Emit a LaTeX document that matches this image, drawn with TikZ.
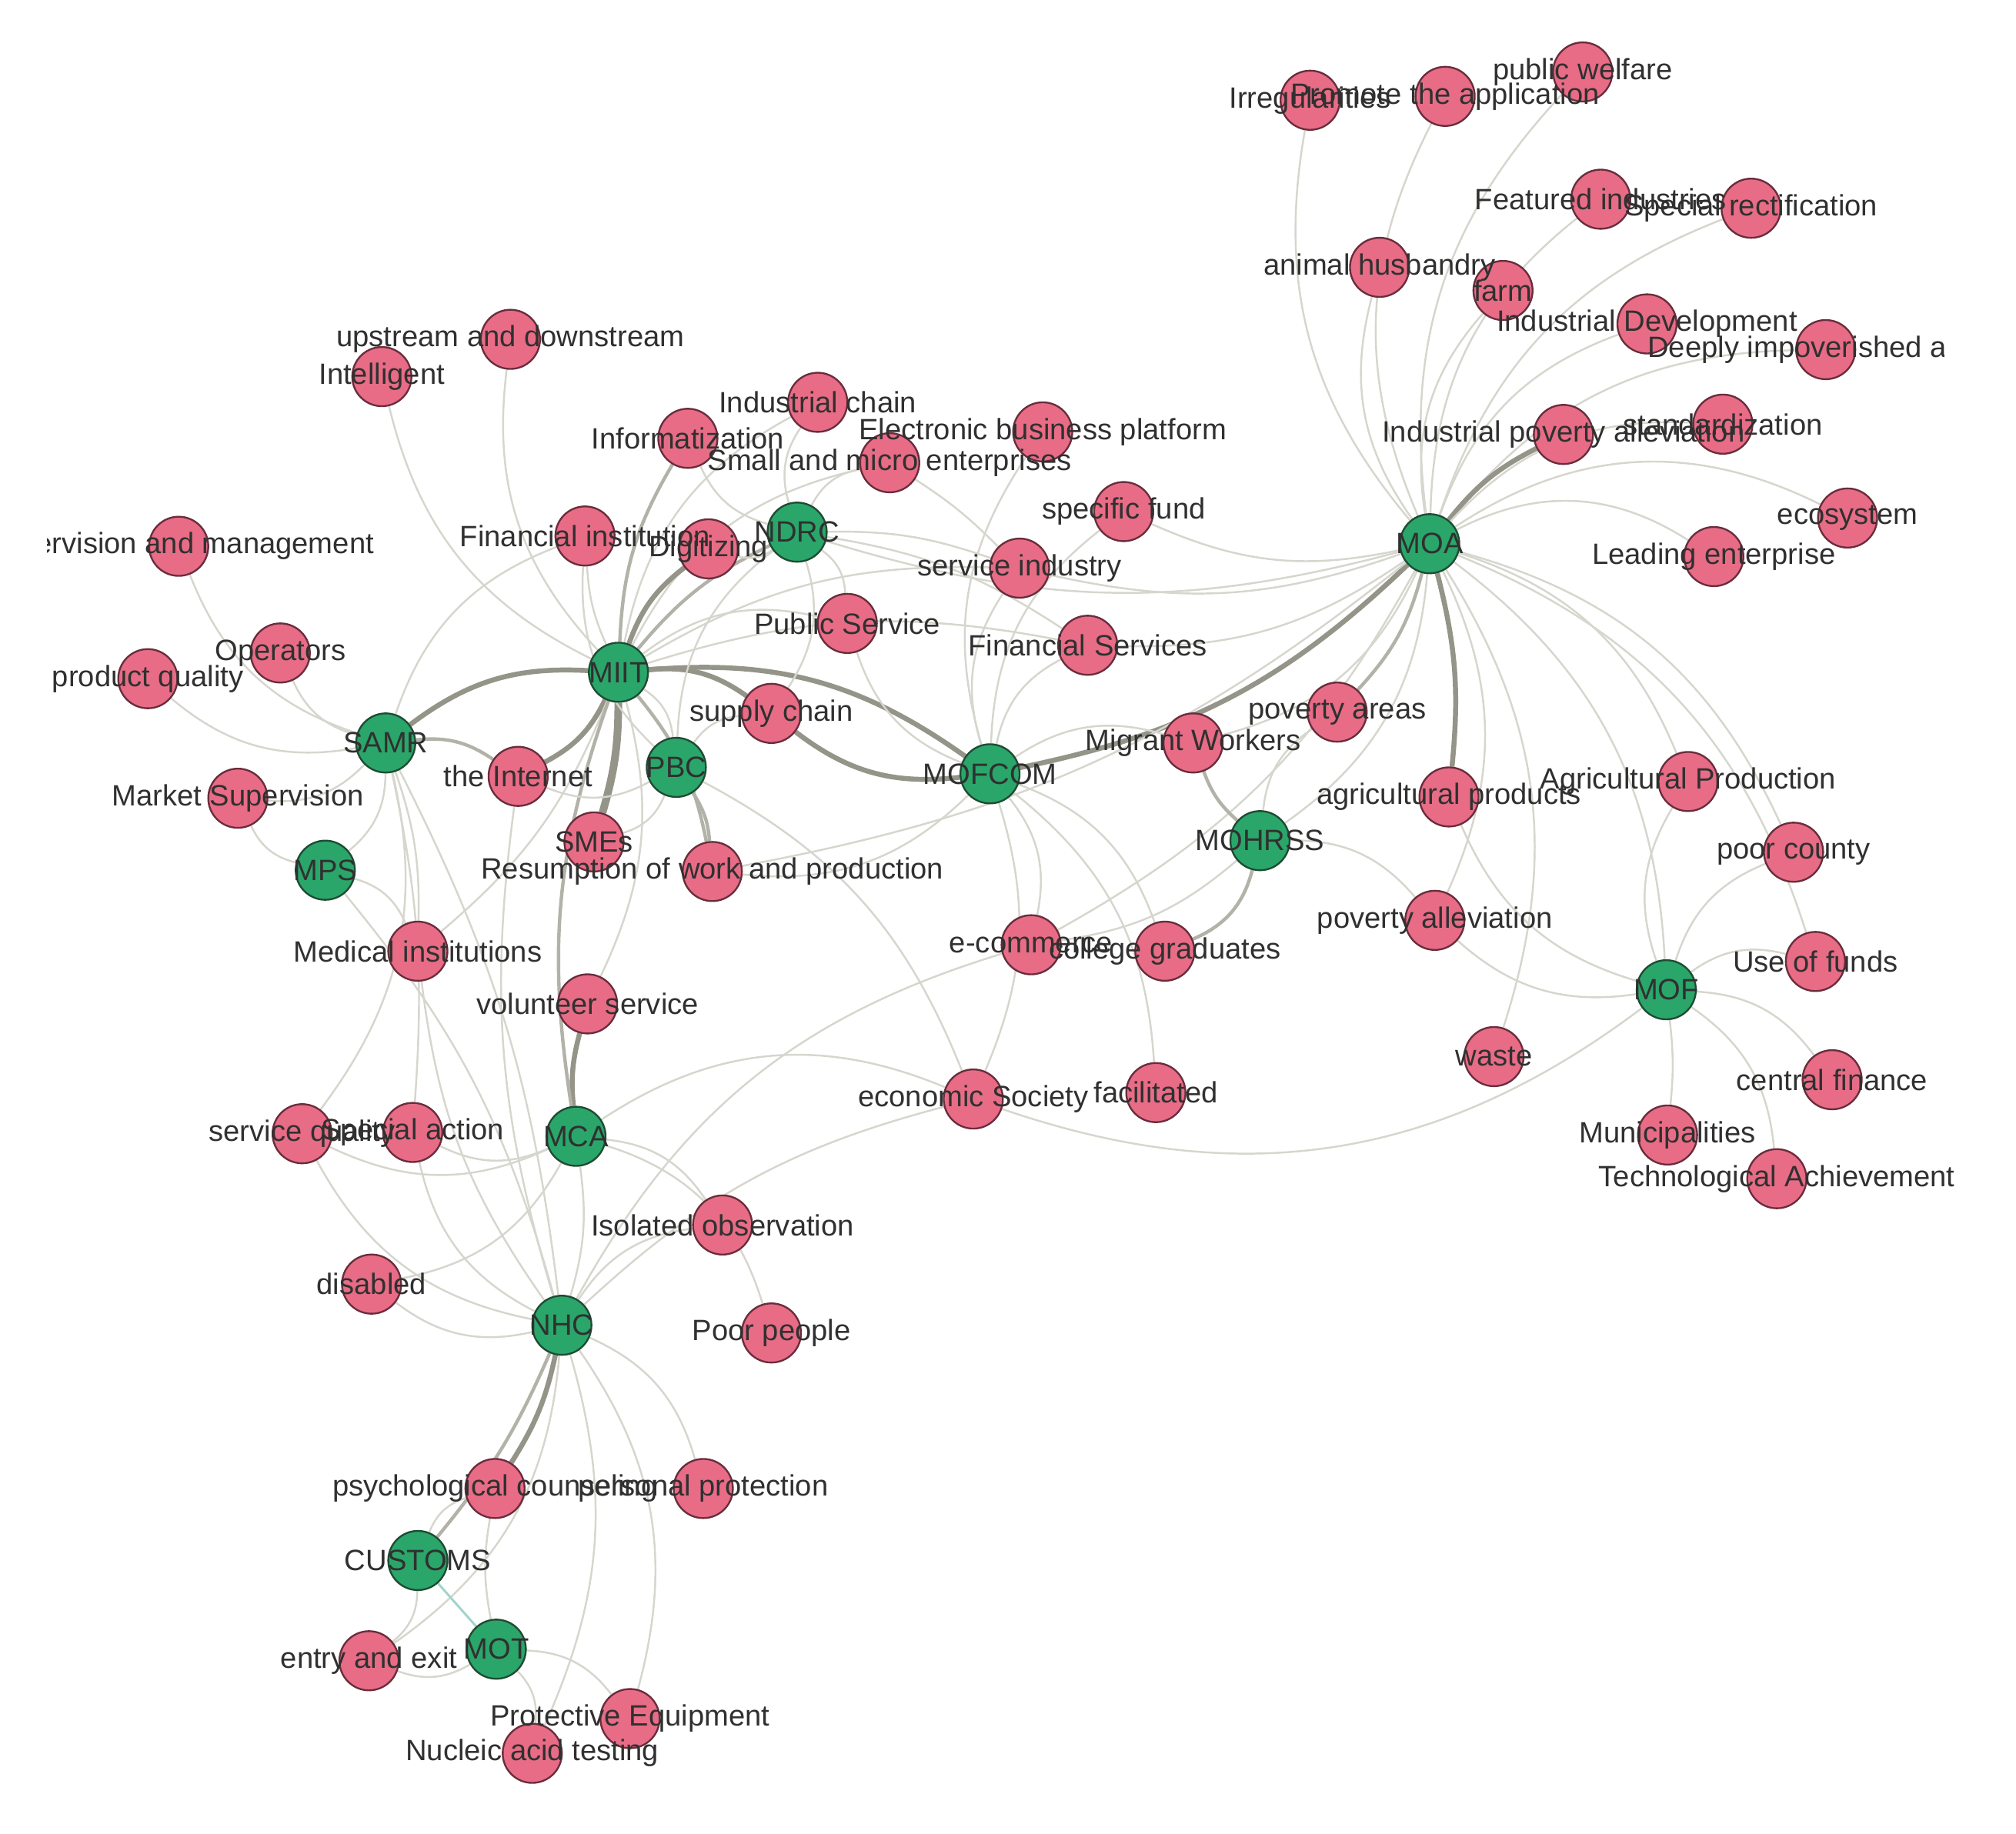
\documentclass[tikz,border=0pt]{standalone}
\usepackage{fontspec}
\setmainfont{Liberation Sans}
\pgfdeclarelayer{bg}
\pgfdeclarelayer{fg}
\pgfsetlayers{bg,main,fg}
\definecolor{pinkf}{RGB}{232,108,134}
\definecolor{greenf}{RGB}{42,166,106}
\definecolor{pinkb}{RGB}{105,45,60}
\definecolor{greenb}{RGB}{30,75,50}
\definecolor{ecol}{RGB}{214,214,206}
\definecolor{emid}{RGB}{178,178,168}
\definecolor{ethk}{RGB}{148,148,136}
\definecolor{eteal}{RGB}{160,212,202}
\definecolor{txt}{RGB}{48,48,48}
\tikzset{
 pnode/.style={circle, fill=pinkf, draw=pinkb, line width=0.4pt, minimum size=0.46cm, inner sep=0pt},
 gnode/.style={circle, fill=greenf, draw=greenb, line width=0.4pt, minimum size=0.46cm, inner sep=0pt},
 lab/.style={font=\fontsize{6.5pt}{7pt}\selectfont, text=txt, inner sep=0pt, anchor=center},
 elt/.style={draw=ecol, line width=0.42pt},
 emd/.style={draw=emid, line width=0.75pt},
 eth/.style={draw=ethk, line width=1.1pt},
 etl/.style={draw=eteal, line width=0.5pt},
}
\newcommand{\PN}[3]{\node[pnode] (#1) at (#2,-#3) {};}
\newcommand{\GN}[3]{\node[gnode] (#1) at (#2,-#3) {};}
\newcommand{\E}[3][elt]{\draw[#1] (#2) to[bend left=25] (#3);}
\newcommand{\EB}[4][elt]{\draw[#1] (#3) to[bend left=#2] (#4);}
\begin{document}
\begin{tikzpicture}[x=0.01cm,y=0.01cm]
\useasboundingbox (0,0) rectangle (1568,-1426.7);
% ---------- agency nodes ----------
\GN{moa}{1112}{423}
\GN{miit}{481}{523}
\GN{ndrc}{620}{414}
\GN{samr}{300}{578}
\GN{pbc}{526}{597}
\GN{mofcom}{770}{602}
\GN{mohrss}{980}{654}
\GN{mps}{253}{677}
\GN{mof}{1296}{770}
\GN{mca}{448}{884}
\GN{nhc}{437}{1031}
\GN{cust}{325}{1214}
\GN{mot}{386}{1283}
% ---------- keyword nodes ----------
\PN{irr}{1019}{78}
\PN{prom}{1124}{75}
\PN{pubw}{1231}{56}
\PN{feat}{1245}{155}
\PN{spec}{1362}{162}
\PN{anim}{1073}{208}
\PN{farm}{1169}{226}
\PN{inddev}{1281}{252}
\PN{deep}{1420}{272}
\PN{ipa}{1216}{338}
\PN{std}{1340}{330}
\PN{eco}{1437}{403}
\PN{lead}{1333}{433}
\PN{upd}{397}{264}
\PN{intel}{297}{293}
\PN{ichain}{636}{313}
\PN{info}{535}{341}
\PN{ebp}{811}{336}
\PN{smme}{692}{360}
\PN{sfund}{874}{398}
\PN{finst}{455}{417}
\PN{digi}{551}{427}
\PN{supm}{139}{425}
\PN{oper}{218}{508}
\PN{pq}{115}{528}
\PN{pubs}{659}{485}
\PN{servind}{793}{442}
\PN{finserv}{846}{502}
\PN{sc}{600}{555}
\PN{pova}{1040}{554}
\PN{migw}{928}{578}
\PN{inet}{403}{604}
\PN{mktsup}{185}{621}
\PN{agprod}{1127}{620}
\PN{agpro}{1313}{608}
\PN{smes}{462}{655}
\PN{resum}{554}{678}
\PN{poorc}{1395}{663}
\PN{medi}{325}{740}
\PN{ecom}{802}{735}
\PN{colg}{906}{740}
\PN{poval}{1116}{716}
\PN{usef}{1412}{748}
\PN{vols}{457}{781}
\PN{waste}{1162}{822}
\PN{econ}{757}{855}
\PN{facil}{899}{850}
\PN{cfin}{1425}{840}
\PN{muni}{1297}{883}
\PN{tech}{1382}{917}
\PN{sq}{235}{882}
\PN{spa}{321}{881}
\PN{iso}{562}{953}
\PN{dis}{289}{999}
\PN{poorp}{600}{1037}
\PN{psy}{385}{1158}
\PN{pers}{547}{1158}
\PN{entry}{287}{1292}
\PN{prot}{490}{1337}
\PN{nucl}{414}{1364}
% ---------- connectors ----------
\begin{pgfonlayer}{bg}
% MOA
\E{moa}{irr} \E{moa}{prom} \E{moa}{pubw} \E{moa}{feat} \E{moa}{spec}
\E{moa}{anim} \E{moa}{farm} \E{moa}{inddev} \E{moa}{deep}
\EB[eth]{12}{moa}{ipa}
\E{moa}{std} \EB{30}{moa}{eco} \EB{30}{moa}{lead}
\E{moa}{agpro} \E{moa}{poorc} \E{moa}{usef} \E{moa}{mof}
\E{moa}{poval} \E{moa}{waste}
\EB[eth]{10}{moa}{agprod}
\EB[emd]{14}{moa}{pova}
\E{moa}{migw} \E{moa}{mohrss}
\EB[eth]{16}{moa}{mofcom}
\EB{18}{moa}{finserv} \EB{16}{moa}{servind} \EB{16}{moa}{ndrc}
\EB{14}{moa}{resum} \EB{16}{moa}{ecom} \EB{18}{moa}{sfund}
% MIIT
\E{miit}{intel} \E{miit}{upd}
\EB[emd]{14}{miit}{info}
\E{miit}{ichain} \E{miit}{smme} \EB{10}{miit}{finst}
\EB[eth]{16}{miit}{digi}
\EB[emd]{12}{miit}{ndrc}
\E{miit}{pubs}
\EB[eth]{20}{miit}{sc}
\EB[eth]{20}{miit}{mofcom}
\E{miit}{pbc}
\EB[eth]{18}{miit}{inet}
\draw[ethk, line width=1.7pt] (miit) to[bend left=8] (smes);
\EB[emd]{14}{miit}{resum}
\EB{20}{miit}{vols}
\EB{16}{miit}{servind} \EB{14}{miit}{finserv} \EB{14}{miit}{medi}
% SAMR
\EB[eth]{20}{samr}{miit}
\E{samr}{oper} \E{samr}{pq} \E{samr}{supm} \E{samr}{mktsup} \E{samr}{mps}
\EB[emd]{20}{samr}{inet}
\EB{10}{samr}{medi} \E{samr}{sq} \EB{8}{samr}{spa} \EB{10}{samr}{nhc}
\E{samr}{finst}
% MPS
\E{mps}{mktsup} \E{mps}{medi} \EB{12}{mps}{nhc}
% MCA
\EB[eth]{10}{mca}{vols}
\EB[emd]{14}{mca}{miit}
\E{mca}{sq} \E{mca}{spa} \E{mca}{dis} \EB{12}{mca}{nhc}
\EB{28}{mca}{econ} \E{mca}{iso} \EB{28}{mca}{poorp}
% NHC
\EB[eth]{10}{nhc}{psy}
\EB[emd]{8}{nhc}{cust}
\E{nhc}{pers} \EB{20}{nhc}{nucl} \E{nhc}{prot} \E{nhc}{dis}
\E{nhc}{iso} \EB{14}{nhc}{medi} \E{nhc}{sq} \E{nhc}{spa}
\EB{22}{nhc}{ecom} \EB{14}{nhc}{econ} \EB{12}{nhc}{inet} \E{nhc}{entry}
% CUSTOMS, MOT
\E{cust}{psy} \draw[etl] (cust) -- (mot); \E{cust}{entry}
\E{mot}{prot} \E{mot}{nucl} \EB{10}{mot}{psy} \E{mot}{entry}
% NDRC
\E{ndrc}{ichain} \E{ndrc}{info} \E{ndrc}{smme} \E{ndrc}{digi}
\E{ndrc}{pubs} \EB{10}{ndrc}{servind} \E{ndrc}{sc} \EB{12}{ndrc}{finserv}
% PBC
\EB[emd]{14}{pbc}{resum}
\E{pbc}{sc} \E{pbc}{finst} \E{pbc}{smes} \E{pbc}{inet} \EB{20}{pbc}{econ} \E{pbc}{ndrc}
% MOFCOM
\EB[eth]{22}{mofcom}{sc}
\E{mofcom}{ebp} \E{mofcom}{servind} \E{mofcom}{finserv} \E{mofcom}{pubs}
\E{mofcom}{ecom} \E{mofcom}{colg} \EB{20}{mofcom}{econ} \E{mofcom}{migw}
\E{mofcom}{resum} \EB{24}{mofcom}{facil} \E{mofcom}{sfund}
% MOHRSS
\EB[emd]{14}{mohrss}{migw}
\EB[emd]{26}{mohrss}{colg}
\E{mohrss}{pova} \E{mohrss}{poval} \EB{16}{mohrss}{ecom}
% MOF
\E{mof}{poval} \E{mof}{agprod} \E{mof}{agpro} \E{mof}{poorc} \E{mof}{usef}
\E{mof}{cfin} \EB{6}{mof}{muni} \E{mof}{tech} \EB{28}{mof}{econ}
% others
\EB{6}{smme}{servind}
\end{pgfonlayer}
% ---------- labels ----------
\begin{pgfonlayer}{fg}
\begin{scope}
\clip (37,0) rectangle (1512,-1426.7);
\node[lab] at (deep) {Deeply impoverished areas};
\end{scope}
\begin{scope}
\clip (37,0) rectangle (1522,-1426.7);
\node[lab] at (moa) {MOA};
\node[lab] at (miit) {MIIT};
\node[lab] at (ndrc) {NDRC};
\node[lab] at (samr) {SAMR};
\node[lab] at (pbc) {PBC};
\node[lab] at (mofcom) {MOFCOM};
\node[lab] at (mohrss) {MOHRSS};
\node[lab] at (mps) {MPS};
\node[lab] at (mof) {MOF};
\node[lab] at (mca) {MCA};
\node[lab] at (nhc) {NHC};
\node[lab] at (cust) {CUSTOMS};
\node[lab] at (mot) {MOT};
\node[lab] at (irr) {Irregularities};
\node[lab] at (prom) {Promote the application};
\node[lab] at (pubw) {public welfare};
\node[lab] at (feat) {Featured industries};
\node[lab] at (spec) {Special rectification};
\node[lab] at (anim) {animal husbandry};
\node[lab] at (farm) {farm};
\node[lab] at (inddev) {Industrial Development};
\node[lab] at (ipa) {Industrial poverty alleviation};
\node[lab] at (std) {standardization};
\node[lab] at (eco) {ecosystem};
\node[lab] at (lead) {Leading enterprise};
\node[lab] at (upd) {upstream and downstream};
\node[lab] at (intel) {Intelligent};
\node[lab] at (ichain) {Industrial chain};
\node[lab] at (info) {Informatization};
\node[lab] at (ebp) {Electronic business platform};
\node[lab] at (smme) {Small and micro enterprises};
\node[lab] at (sfund) {specific fund};
\node[lab] at (finst) {Financial institution};
\node[lab] at (digi) {Digitizing};
\node[lab] at (supm) {Supervision and management};
\node[lab] at (oper) {Operators};
\node[lab] at (pq) {product quality};
\node[lab] at (pubs) {Public Service};
\node[lab] at (servind) {service industry};
\node[lab] at (finserv) {Financial Services};
\node[lab] at (sc) {supply chain};
\node[lab] at (pova) {poverty areas};
\node[lab] at (migw) {Migrant Workers};
\node[lab] at (inet) {the Internet};
\node[lab] at (mktsup) {Market Supervision};
\node[lab] at (agprod) {agricultural products};
\node[lab] at (agpro) {Agricultural Production};
\node[lab] at (smes) {SMEs};
\node[lab] at (resum) {Resumption of work and production};
\node[lab] at (poorc) {poor county};
\node[lab] at (medi) {Medical institutions};
\node[lab] at (ecom) {e-commerce};
\node[lab] at (colg) {college graduates};
\node[lab] at (poval) {poverty alleviation};
\node[lab] at (usef) {Use of funds};
\node[lab] at (vols) {volunteer service};
\node[lab] at (waste) {waste};
\node[lab] at (econ) {economic Society};
\node[lab] at (facil) {facilitated};
\node[lab] at (cfin) {central finance};
\node[lab] at (muni) {Municipalities};
\node[lab] at (tech) {Technological Achievement};
\node[lab] at (sq) {service quality};
\node[lab] at (spa) {Special action};
\node[lab] at (iso) {Isolated observation};
\node[lab] at (dis) {disabled};
\node[lab] at (poorp) {Poor people};
\node[lab] at (psy) {psychological counseling};
\node[lab] at (pers) {personal protection};
\node[lab] at (entry) {entry and exit};
\node[lab] at (prot) {Protective Equipment};
\node[lab] at (nucl) {Nucleic acid testing};
\end{scope}
\end{pgfonlayer}
\end{tikzpicture}
\end{document}
